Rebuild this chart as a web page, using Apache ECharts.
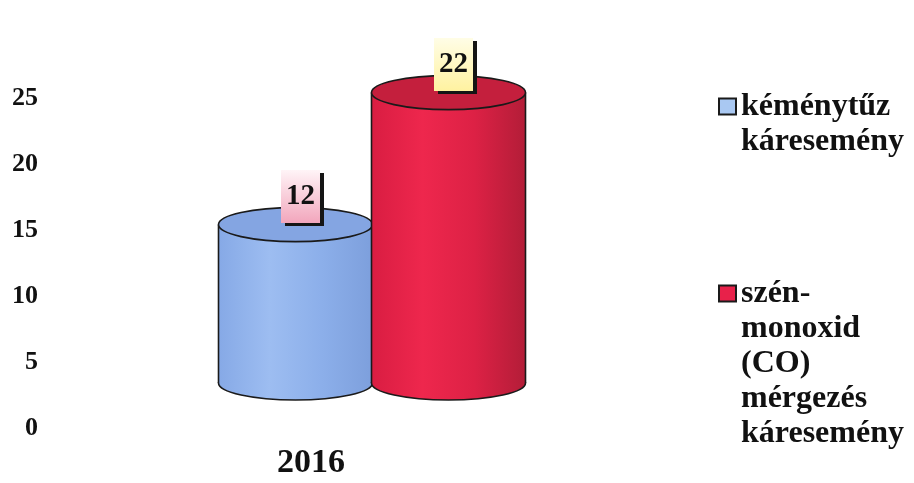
<!DOCTYPE html>
<html>
<head>
<meta charset="utf-8">
<script src="https://cdn.jsdelivr.net/npm/echarts@6/dist/echarts.min.js"></script>
<style>
  html, body { margin: 0; padding: 0; background: #ffffff; }
  #chart { width: 914px; height: 483px; }
</style>
</head>
<body>
<div id="chart"></div>
<script>
// Chart data
const categories = ['2016'];
const seriesNames = ['kéménytűz\nkáresemény', 'szén-\nmonoxid\n(CO)\nmérgezés\nkáresemény'];
const chimneyFire = [12];
const carbonMonoxide = [22];
const yTicks = [0, 5, 10, 15, 20, 25];

const SERIF = '"Liberation Serif", "Times New Roman", serif';
// Oblique 3D look: cylinders stand set back from the front axis plane
const DEPTH_X = 61;
const DEPTH_Y = -45;
const RX = 77;
const RY = 17;

function hGrad(stops) {
  return { type: 'linear', x: 0, y: 0, x2: 1, y2: 0,
    colorStops: stops.map((c, i) => ({ offset: i / (stops.length - 1), color: c })) };
}
function vGrad(a, b) {
  return { type: 'linear', x: 0, y: 0, x2: 0, y2: 1,
    colorStops: [{ offset: 0, color: a }, { offset: 1, color: b }] };
}

function cylinder(shift, look) {
  return function (params, api) {
    const cat = api.value(0);
    const val = api.value(1);
    const base = api.coord([cat, 0]);
    const top = api.coord([cat, val]);
    const cx = base[0] + shift + DEPTH_X;
    const yb = base[1] + DEPTH_Y;
    const yt = top[1] + DEPTH_Y;
    const line = { stroke: '#1a1a1a', lineWidth: 1.6 };
    return {
      type: 'group',
      children: [
        { type: 'ellipse', shape: { cx: cx, cy: yb, rx: RX, ry: RY },
          style: Object.assign({ fill: hGrad(look.body) }, line) },
        { type: 'rect', shape: { x: cx - RX, y: yt, width: 2 * RX, height: yb - yt },
          style: { fill: hGrad(look.body), stroke: null } },
        { type: 'line', shape: { x1: cx - RX, y1: yt, x2: cx - RX, y2: yb }, style: line },
        { type: 'line', shape: { x1: cx + RX, y1: yt, x2: cx + RX, y2: yb }, style: line },
        { type: 'ellipse', shape: { cx: cx, cy: yt, rx: RX, ry: RY },
          style: Object.assign({ fill: look.top }, line) },
        { type: 'text', x: cx + 5, y: yt - 28,
          style: {
            text: String(val),
            fontFamily: SERIF, fontWeight: 'bold', fontSize: 29,
            fill: '#111', align: 'center', verticalAlign: 'middle',
            backgroundColor: look.label, padding: [11, 5, 13, 5],
            shadowColor: '#151515', shadowOffsetX: 4, shadowOffsetY: 3, shadowBlur: 0
          } }
      ]
    };
  };
}

const blueLook = {
  body: ['#86a9e6', '#9dbdf1', '#8cafea', '#7d9fdc'],
  top: '#84a5e2',
  label: vGrad('#fff4f7', '#f2a6bc')
};
const redLook = {
  body: ['#d91d42', '#ee274d', '#dd2145', '#b31d38'],
  top: '#c41f3d',
  label: vGrad('#fffde6', '#fff2a0')
};

// Legend text hangs from the icon: blank lines above balance the centred block
function hangingLabel(name) {
  const n = name.split('\n').length;
  return '\n'.repeat(n - 1) + name;
}

const legendText = { fontFamily: SERIF, fontWeight: 'bold', fontSize: 32, lineHeight: 35, color: '#111' };
const legendBase = {
  orient: 'vertical', left: 718, padding: 0, icon: 'rect',
  itemWidth: 17, itemHeight: 16, selectedMode: false,
  textStyle: legendText, formatter: hangingLabel
};

const chart = echarts.init(document.getElementById('chart'));
chart.setOption({
  backgroundColor: '#ffffff',
  animation: false,
  grid: { left: 48, right: 340, top: 98, bottom: 55 },
  xAxis: {
    type: 'category',
    data: categories,
    axisLine: { show: false },
    axisTick: { show: false },
    axisLabel: { margin: 18, fontFamily: SERIF, fontWeight: 'bold', fontSize: 34, color: '#111' }
  },
  yAxis: {
    type: 'value',
    min: yTicks[0],
    max: yTicks[yTicks.length - 1],
    interval: yTicks[1] - yTicks[0],
    axisLine: { show: false },
    axisTick: { show: false },
    splitLine: { show: false },
    axisLabel: { margin: 10, fontFamily: SERIF, fontWeight: 'bold', fontSize: 26, color: '#111' }
  },
  legend: [
    Object.assign({}, legendBase, {
      top: 54,
      data: [{ name: seriesNames[0],
        itemStyle: { color: '#a9c8f2', borderColor: '#1a1a1a', borderWidth: 2 } }]
    }),
    Object.assign({}, legendBase, {
      top: 136,
      data: [{ name: seriesNames[1],
        itemStyle: { color: '#e8214a', borderColor: '#1a1a1a', borderWidth: 2 } }]
    })
  ],
  series: [
    {
      name: seriesNames[0], type: 'custom',
      itemStyle: { color: '#a9c8f2' },
      encode: { x: 0, y: 1 },
      data: chimneyFire.map((v, i) => [i, v]),
      renderItem: cylinder(-76.5, blueLook)
    },
    {
      name: seriesNames[1], type: 'custom',
      itemStyle: { color: '#e8214a' },
      encode: { x: 0, y: 1 },
      data: carbonMonoxide.map((v, i) => [i, v]),
      renderItem: cylinder(76.5, redLook)
    }
  ]
});
</script>
</body>
</html>
